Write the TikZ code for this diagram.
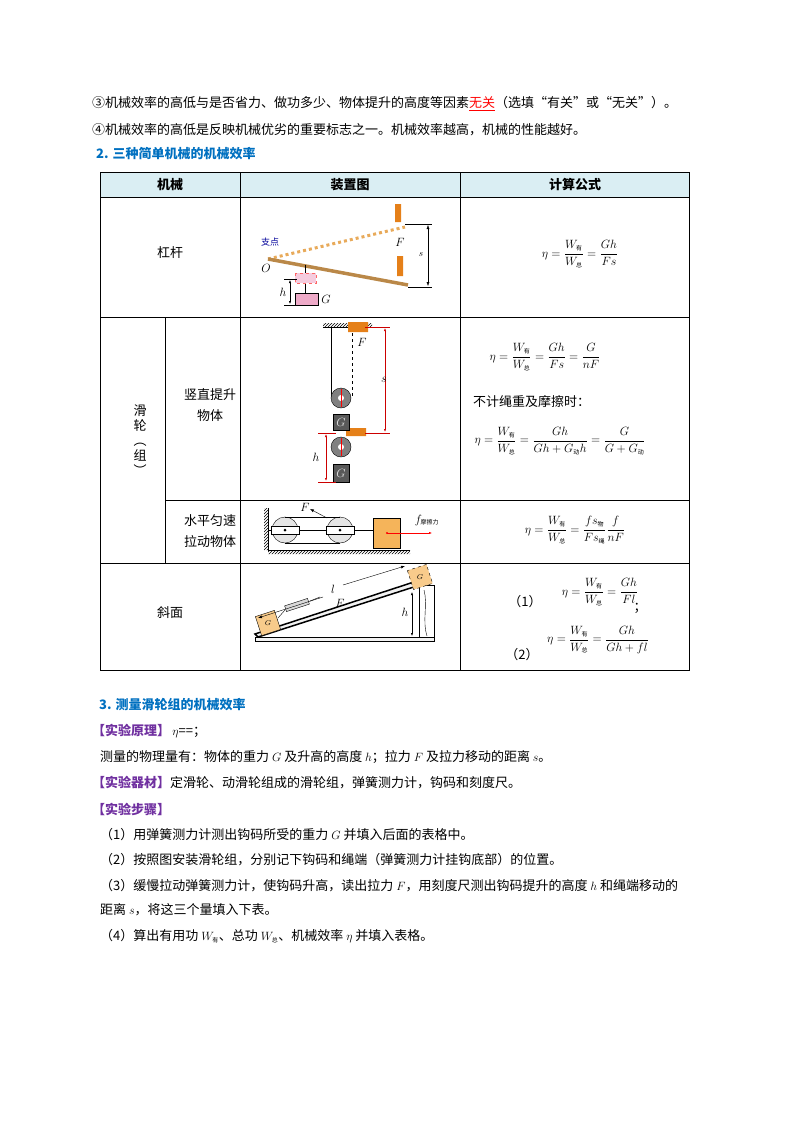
\documentclass[tikz,border=0pt]{standalone}
\usepackage{amsmath}
\usepackage{fontspec}
\setmainfont{Noto Sans CJK SC}
\usetikzlibrary{patterns,arrows.meta}
\definecolor{headblue}{RGB}{0,112,192}
\definecolor{stepviolet}{RGB}{112,48,160}
\definecolor{headcyan}{RGB}{218,238,243}
\definecolor{wood}{RGB}{232,170,90}
\definecolor{weightpink}{RGB}{238,170,200}
\definecolor{blockorange}{RGB}{245,180,90}
\newcommand{\sub}[1]{\mbox{\fontsize{6}{6}\selectfont #1}}
\begin{document}
\begin{tikzpicture}[x=1pt,y=1pt,yscale=-1,
  txt/.style={anchor=west,inner sep=0pt,font=\fontsize{13}{15}\selectfont},
  cell/.style={inner sep=0pt,font=\fontsize{13}{15}\selectfont},
  bluehead/.style={txt,text=headblue,font=\fontsize{13}{15}\selectfont\bfseries},
  tag/.style={txt,text=stepviolet},
  grid/.style={line width=0.8pt},
  redline/.style={red!80!black,line width=0.6pt}]
\useasboundingbox (0,0) rectangle (800,1132);

% text above table
\node[txt] (t3) at (92,104) {③机械效率的高低与是否省力、做功多少、物体提升的高度等因素\textcolor{red}{\underline{无关}}（选填“有关”或“无关”）。};
\node[txt] (t4) at (92,130) {④机械效率的高低是反映机械优劣的重要标志之一。机械效率越高，机械的性能越好。};
\node[bluehead] (h2) at (96,154) {2. 三种简单机械的机械效率};

% table
\fill[headcyan] (100,172) rectangle (689,197);
\draw[grid] (100,172) rectangle (689,670);
\draw[grid] (100,197) -- (689,197);
\draw[grid] (100,317) -- (689,317);
\draw[grid] (165,500) -- (689,500);
\draw[grid] (100,563) -- (689,563);
\draw[grid] (240,172) -- (240,670);
\draw[grid] (460,172) -- (460,670);
\draw[grid] (165,317) -- (165,563);

\node[cell,font=\fontsize{13}{15}\selectfont\bfseries] (c1) at (170,185) {机械};
\node[cell,font=\fontsize{13}{15}\selectfont\bfseries] (c2) at (350,185) {装置图};
\node[cell,font=\fontsize{13}{15}\selectfont\bfseries] (c3) at (575,185) {计算公式};
\node[cell] (lever) at (170,253) {杠杆};
\node[cell,align=center] (pulley) at (140,440) {滑\\轮\\︵\\组\\︶};
\node[cell,align=center] (vert) at (210,405) {竖直提升\\[6pt]物体};
\node[cell,align=center] (horiz) at (210,531) {水平匀速\\[6pt]拉动物体};
\node[cell] (slope) at (170,613) {斜面};

% lever figure
\coordinate (O) at (268,259);
\draw[wood,line width=3pt,dashed] (O) -- (405,227);
\draw[wood!80!black,line width=3.5pt] (O) -- (408,285);
\draw[black,line width=0.4pt] (405,224) -- (432,224) (408,287) -- (432,287);
\draw[{Latex[length=4pt]}-{Latex[length=4pt]},line width=0.4pt] (428,225) -- (428,286);
\node[cell,font=\itshape\small] (s1) at (421,255) {$s$};
\node[cell,font=\small,text=blue!60!black] (fulcrum) at (270,242) {支点};
\node[cell] (Ol) at (266,268) {$O$};
\node[cell] (F1) at (400,242) {$F$};
\fill[orange!60!brown] (395,204) rectangle (401,222) (397,256) rectangle (403,276);
\draw (305,265) -- (305,293);
\draw[dashed,red!60,fill=weightpink!60] (295,273) rectangle (316,283);
\draw[fill=weightpink] (295,293) rectangle (318,305);
\node[cell] (G1) at (326,299) {$G$};
\draw (284,279) -- (297,279) (284,305) -- (297,305);
\draw[{Latex[length=3pt]}-{Latex[length=3pt]}] (290,280) -- (290,304);
\node[cell] (h1) at (283,292) {$h$};
\node[cell] (f1) at (580,254) {$\eta=\dfrac{W_{\sub{有}}}{W_{\sub{总}}}=\dfrac{Gh}{Fs}$};

% pulley figure
\fill[pattern=north east lines] (323,323) rectangle (372,327);
\draw (323,327) -- (372,327);
\draw (331,327) -- (331,398);
\draw[dashed] (352,333) -- (352,398);
\fill[orange!60!brown] (348,322) rectangle (368,332) (346,428) rectangle (366,436);
\node[cell] (F2) at (362,342) {$F$};
\foreach \yy/\nm in {398/up,447/low}{
  \draw[fill=gray] (341,\yy) circle (10);
  \fill[white] (341,\yy) circle (3);
  \draw[red,line width=0.5pt] (341,\yy-9) -- (341,\yy+9);
}
\draw[fill=gray!70!black] (333,414) rectangle (349,430);
\draw[fill=gray!70!black] (333,464) rectangle (349,482);
\node[cell,text=white!80!gray] (Gu) at (341,422) {$G$};
\node[cell,text=white!80!gray] (Gl) at (341,473) {$G$};
\draw[redline] (365,327) -- (390,327) (365,433) -- (390,433);
\draw[redline,{Latex[length=3pt]}-{Latex[length=3pt]}] (385,328) -- (385,432);
\node[cell] (s2) at (384,380) {$s$};
\draw[redline] (318,433) -- (336,433) (318,482) -- (336,482);
\draw[redline,{Latex[length=3pt]}-{Latex[length=3pt]}] (326,434) -- (326,481);
\node[cell] (h2l) at (316,457) {$h$};
\node[cell] (f2a) at (545,357) {$\eta=\dfrac{W_{\sub{有}}}{W_{\sub{总}}}=\dfrac{Gh}{Fs}=\dfrac{G}{nF}$};
\node[txt] (noloss) at (473,402) {不计绳重及摩擦时：};
\node[cell] (f2b) at (560,441) {$\eta=\dfrac{W_{\sub{有}}}{W_{\sub{总}}}=\dfrac{Gh}{Gh+G_{\sub{动}}h}=\dfrac{G}{G+G_{\sub{动}}}$};

% horizontal pulley figure
\fill[pattern=north east lines] (264,508) rectangle (268,550) (268,550) rectangle (410,554);
\draw (268,508) -- (268,550) -- (410,550);
\foreach \xx in {285,340}{
  \draw[fill=gray!20] (\xx,530) circle (13);
  \draw[fill=white] (\xx-14,526) rectangle (\xx+14,534);
  \fill (\xx,530) circle (1.5);
}
\draw (285,517) -- (340,517) (285,543) -- (340,543);
\draw (268,530) -- (271,530) (299,530) -- (326,530) (354,530) -- (373,530);
\draw[-{Latex[length=4pt]}] (327,518) -- (310,509);
\node[cell] (F3) at (305,507) {$F$};
\draw[fill=blockorange] (373,518) rectangle (400,548);
\draw[red,-{Latex[length=3pt]}] (387,533) -- (432,533);
\fill[red] (387,533) circle (1.2);
\node[cell] (fric) at (427,520) {$f_{\sub{摩擦力}}$};
\node[cell] (f3) at (575,530) {$\eta=\dfrac{W_{\sub{有}}}{W_{\sub{总}}}=\dfrac{fs_{\sub{物}}}{Fs_{\sub{绳}}}\dfrac{f}{nF}$};

% incline figure
\draw[fill=gray!10] (255,637) rectangle (434,641);
\draw[fill=white] (419,585) rectangle (434,637);
\draw (424,590) .. controls (428,605) and (422,620) .. (427,636);
\draw[line width=1.5pt,fill=gray!10] (255,634) -- (420,580) -- (420,585) -- (258,637) -- cycle;
\draw[fill=blockorange!70,rotate around={-18:(268,623)}] (258,613) rectangle (278,633);
\node[cell,font=\scriptsize] (Glow) at (268,623) {$G$};
\draw[dashed,fill=blockorange!70,rotate around={-18:(420,577)}] (410,567) rectangle (430,587);
\node[cell,font=\scriptsize] (Ghigh) at (420,577) {$G$};
\draw[fill=gray!30,rotate around={-18:(297,605)}] (285,602) rectangle (309,608);
\draw (278,618) -- (285,610) (310,601) -- (320,597);
\draw[-{Latex[length=4pt]}] (323,597) -- (258,618);
\draw[-{Latex[length=4pt]}] (343,585) -- (405,566);
\node[cell] (l4) at (333,589) {$l$};
\node[cell] (F4) at (340,603) {$F$};
\draw[{Latex[length=3pt]}-{Latex[length=3pt]}] (412,592) -- (412,636);
\node[cell] (h4) at (405,612) {$h$};
\node[cell] (one) at (525,602) {（1）};
\node[cell] (f4a) at (600,592) {$\eta=\dfrac{W_{\sub{有}}}{W_{\sub{总}}}=\dfrac{Gh}{Fl}$};
\node[cell] (semi) at (640,608) {；};
\node[cell] (two) at (522,655) {（2）};
\node[cell] (f4b) at (598,640) {$\eta=\dfrac{W_{\sub{有}}}{W_{\sub{总}}}=\dfrac{Gh}{Gh+fl}$};

% text below table
\node[bluehead] (h3) at (99,705) {3. 测量滑轮组的机械效率};
\node[tag] (prin) at (92,731) {\textbf{【实验原理】}\textcolor{black}{\,$\eta$==；}};
\node[txt] (qty) at (100,757) {测量的物理量有：物体的重力 $G$ 及升高的高度 $h$；拉力 $F$ 及拉力移动的距离 $s$。};
\node[tag] (equip) at (92,783) {\textbf{【实验器材】}\textcolor{black}{定滑轮、动滑轮组成的滑轮组，弹簧测力计，钩码和刻度尺。}};
\node[tag] (steps) at (92,809) {\textbf{【实验步骤】}};
\node[txt] (st1) at (100,835) {（1）用弹簧测力计测出钩码所受的重力 $G$ 并填入后面的表格中。};
\node[txt] (st2) at (100,860) {（2）按照图安装滑轮组，分别记下钩码和绳端（弹簧测力计挂钩底部）的位置。};
\node[txt] (st3) at (100,886) {（3）缓慢拉动弹簧测力计，使钩码升高，读出拉力 $F$，用刻度尺测出钩码提升的高度 $h$ 和绳端移动的};
\node[txt] (st3b) at (100,910) {距离 $s$，将这三个量填入下表。};
\node[txt] (st4) at (100,936) {（4）算出有用功 $W_{\sub{有}}$、总功 $W_{\sub{总}}$、机械效率 $\eta$ 并填入表格。};
\end{tikzpicture}
\end{document}
